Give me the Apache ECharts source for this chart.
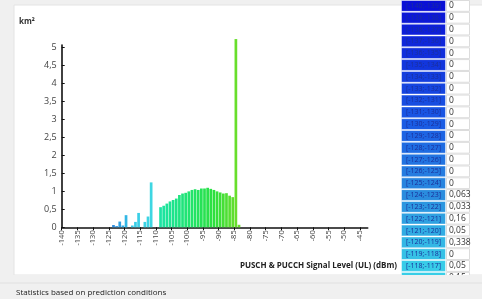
<!DOCTYPE html>
<html>
<head>
<meta charset="utf-8">
<script src="https://cdn.jsdelivr.net/npm/echarts@6/dist/echarts.min.js"></script>
<style>
  html, body { margin: 0; padding: 0; background: #f0f0f0; }
  #chart { width: 482px; height: 299px; }
</style>
</head>
<body>
<div id="chart"></div>
<script>
// lower edge of each 1 dB bin and the area (km²) found in it
const areaBins = [-124, -123, -122, -121, -120, -119, -118, -117, -116, -115, -114, -113, -112, -111, -110,
  -109, -108, -107, -106, -105, -104, -103, -102, -101, -100, -99, -98, -97, -96, -95, -94, -93, -92, -91, -90,
  -89, -88, -87, -86, -85, -84]
const areaKm2 = [0.063, 0.033, 0.16, 0.05, 0.338, 0, 0.05, 0.15, 0.4, 0, 0.15, 0.3, 1.25, 0, 0,
  0.56, 0.6, 0.66, 0.72, 0.76, 0.8, 0.9, 0.94, 0.96, 1.0, 1.04, 1.06, 1.04, 1.08, 1.08, 1.1, 1.07, 1.04, 1.0, 0.97,
  0.94, 0.95, 0.88, 0.84, 5.24, 0.07]

const xTicks = [-140, -135, -130, -125, -120, -115, -110, -105, -100, -95, -90, -85, -80, -75, -70, -65, -60, -55, -50, -45]
const yTicks = [0, 0.5, 1, 1.5, 2, 2.5, 3, 3.5, 4, 4.5, 5]

// legend table on the right (rows visible in the window)
const tableLow = [-140, -139, -138, -137, -136, -135, -134, -133, -132, -131, -130, -129, -128, -127, -126, -125,
  -124, -123, -122, -121, -120, -119, -118, -117]
const tableValue = ['0', '0', '0', '0', '0', '0', '0', '0', '0', '0', '0', '0', '0', '0', '0', '0',
  '0,063', '0,033', '0,16', '0,05', '0,338', '0', '0,05', '0,15']

const colorStops = [
  [-140, [10, 16, 214]], [-130, [26, 92, 228]], [-124, [42, 140, 222]], [-118, [56, 204, 232]],
  [-112, [62, 214, 226]], [-110, [28, 228, 170]], [-100, [32, 228, 112]], [-92, [44, 224, 62]], [-85, [104, 222, 44]],
]

function levelColor(lo) {
  if (lo <= colorStops[0][0]) return 'rgb(' + colorStops[0][1].join(',') + ')'
  for (let i = 1; i < colorStops.length; i++) {
    const [b, cb] = colorStops[i]
    const [a, ca] = colorStops[i - 1]
    if (lo <= b) {
      const t = (lo - a) / (b - a)
      const c = ca.map((v, j) => Math.round(v + (cb[j] - v) * t))
      return 'rgb(' + c.join(',') + ')'
    }
  }
  return 'rgb(' + colorStops[colorStops.length - 1][1].join(',') + ')'
}

const chart = echarts.init(document.getElementById('chart'), null, { renderer: 'canvas' })
const font = '"Open Sans", "DejaVu Sans", sans-serif'

chart.setOption({
  backgroundColor: '#f0f0f0',
  animation: false,
  textStyle: { fontFamily: font },
  graphic: [
    { type: 'rect', z: -10, shape: { x: 14, y: 5, width: 470, height: 270 }, style: { fill: '#fff', stroke: '#e4e4e4' } },
    { type: 'text', x: 19, y: 22, style: { text: 'km²', font: 'bold 8px ' + font, fill: '#333', verticalAlign: 'middle' } },
    { type: 'text', x: 397, y: 266, style: { text: 'PUSCH & PUCCH Signal Level (UL) (dBm)', font: 'bold 8px ' + font, fill: '#222', align: 'right', verticalAlign: 'middle' } },
    { type: 'rect', z: 100, shape: { x: 0, y: 275, width: 482, height: 24 }, style: { fill: '#f0f0f0' } },
    { type: 'line', z: 101, shape: { x1: 0, y1: 283, x2: 482, y2: 283 }, style: { stroke: '#e0e0e0', lineWidth: 1 } },
    { type: 'text', z: 101, x: 16, y: 293, style: { text: 'Statistics based on prediction conditions', font: '8px ' + font, fill: '#222', verticalAlign: 'middle' } },
  ],
  grid: [
    { left: 61.7, width: 306, top: 45, height: 182.3 },
    { left: 401, width: 69, top: -8.3, height: 292 },
  ],
  xAxis: [
    {
      type: 'value', gridIndex: 0, min: -140, max: -42.5,
      splitLine: { show: false },
      axisLine: { lineStyle: { color: '#111', width: 1.6 } },
      axisTick: { customValues: xTicks, length: 3, lineStyle: { color: '#111' } },
      axisLabel: { customValues: xTicks, rotate: 90, fontSize: 7.5, color: '#444', margin: 3 },
    },
    { type: 'value', gridIndex: 1, min: 0, max: 1, show: false },
  ],
  yAxis: [
    {
      type: 'value', gridIndex: 0, min: 0, max: 5.075,
      splitLine: { show: false },
      axisLine: { show: true, lineStyle: { color: '#111', width: 1.6 } },
      axisTick: { show: true, inside: true, customValues: yTicks, length: 3, lineStyle: { color: '#111' } },
      axisLabel: {
        customValues: yTicks, fontSize: 9, color: '#444', margin: 5,
        formatter: v => String(v).replace('.', ','),
      },
    },
    { type: 'category', gridIndex: 1, inverse: true, data: tableLow.map(String), show: false },
  ],
  series: [
    {
      type: 'bar', xAxisIndex: 0, yAxisIndex: 0, barWidth: 2.7, clip: false,
      data: areaBins.map((b, i) => ({
        value: [b + 0.5, areaKm2[i]],
        itemStyle: { color: levelColor(b) },
      })),
    },
    {
      type: 'bar', xAxisIndex: 1, yAxisIndex: 1, stack: 'row', barCategoryGap: 0,
      data: tableLow.map(b => ({
        value: 0.652,
        itemStyle: { color: levelColor(b), borderColor: 'rgba(255,255,255,0.45)', borderWidth: 1 },
      })),
      label: {
        show: true, position: 'inside', fontSize: 7, color: '#1b2f9a',
        formatter: p => '[' + tableLow[p.dataIndex] + ';' + (tableLow[p.dataIndex] + 1) + ']',
      },
    },
    {
      type: 'bar', xAxisIndex: 1, yAxisIndex: 1, stack: 'row', barCategoryGap: 0,
      data: tableLow.map(() => 0.348),
      itemStyle: { color: '#fff', borderColor: '#dcdcdc', borderWidth: 1 },
      label: {
        show: true, position: 'insideLeft', distance: 3, fontSize: 8.5, color: '#333',
        formatter: p => tableValue[p.dataIndex],
      },
    },
  ],
})
</script>
</body>
</html>
